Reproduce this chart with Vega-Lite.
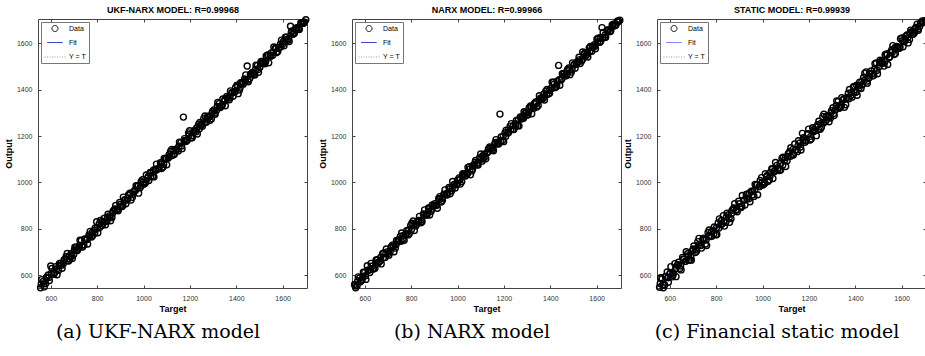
{
  "$schema": "https://vega.github.io/schema/vega-lite/v6.json",
  "padding": {"left": 3, "top": 5, "right": 0, "bottom": 0},
  "background": "white",
  "datasets": {
    "pts": [
      {"t":556,"a":546,"b":560,"c":548},{"t":567,"a":573,"b":555,"c":585},{"t":578,"a":564,"b":588,"c":558},{"t":589,"a":601,"b":581,"c":614},{"t":600,"a":640,"b":613,"c":606},
      {"t":611,"a":605,"b":641,"c":593},{"t":622,"a":637,"b":612,"c":650},{"t":633,"a":621,"b":640,"c":643},{"t":644,"a":652,"b":630,"c":629},{"t":655,"a":652,"b":667,"c":677},
      {"t":666,"a":680,"b":661,"c":660},{"t":677,"a":661,"b":693,"c":693},{"t":688,"a":693,"b":677,"c":666},{"t":699,"a":690,"b":702,"c":708},{"t":710,"a":721,"b":703,"c":698},
      {"t":721,"a":717,"b":731,"c":745},{"t":732,"a":750,"b":717,"c":728},{"t":743,"a":730,"b":749,"c":757},{"t":754,"a":756,"b":768,"c":735},{"t":765,"a":774,"b":756,"c":785},
      {"t":776,"a":765,"b":777,"c":767},{"t":787,"a":793,"b":774,"c":792},{"t":798,"a":831,"b":815,"c":774},{"t":809,"a":821,"b":834,"c":826},{"t":820,"a":815,"b":812,"c":818},
      {"t":831,"a":846,"b":836,"c":857},{"t":842,"a":833,"b":826,"c":828},{"t":853,"a":856,"b":864,"c":861},{"t":864,"a":849,"b":860,"c":844},{"t":875,"a":884,"b":890,"c":888},
      {"t":886,"a":884,"b":876,"c":880},{"t":897,"a":914,"b":900,"c":919},{"t":908,"a":896,"b":901,"c":892},{"t":919,"a":926,"b":931,"c":923},{"t":930,"a":924,"b":916,"c":948},
      {"t":941,"a":954,"b":949,"c":930},{"t":952,"a":936,"b":950,"c":962},{"t":963,"a":967,"b":979,"c":940},{"t":974,"a":984,"b":963,"c":989},{"t":985,"a":977,"b":990,"c":982},
      {"t":996,"a":1012,"b":990,"c":1021},{"t":1007,"a":997,"b":1020,"c":994},{"t":1018,"a":1019,"b":1003,"c":1025},{"t":1029,"a":1043,"b":1038,"c":1011},{"t":1040,"a":1027,"b":1039,"c":1059},
      {"t":1051,"a":1057,"b":1068,"c":1046},{"t":1062,"a":1059,"b":1050,"c":1074},{"t":1073,"a":1085,"b":1077,"c":1052},{"t":1084,"a":1067,"b":1076,"c":1105},{"t":1095,"a":1103,"b":1106,"c":1096},
      {"t":1106,"a":1105,"b":1092,"c":1094},{"t":1117,"a":1135,"b":1123,"c":1133},{"t":1128,"a":1119,"b":1128,"c":1121},{"t":1139,"a":1144,"b":1153,"c":1166},{"t":1150,"a":1136,"b":1140,"c":1133},
      {"t":1161,"a":1172,"b":1168,"c":1170},{"t":1172,"a":1282,"b":1167,"c":1212},{"t":1183,"a":1177,"b":1295,"c":1173},{"t":1194,"a":1214,"b":1181,"c":1208},{"t":1205,"a":1193,"b":1215,"c":1183},
      {"t":1216,"a":1219,"b":1213,"c":1236},{"t":1227,"a":1219,"b":1243,"c":1223},{"t":1238,"a":1251,"b":1229,"c":1249},{"t":1249,"a":1247,"b":1253,"c":1230},{"t":1260,"a":1276,"b":1245,"c":1284},
      {"t":1271,"a":1260,"b":1283,"c":1263},{"t":1282,"a":1287,"b":1276,"c":1288},{"t":1293,"a":1275,"b":1301,"c":1278},{"t":1304,"a":1313,"b":1292,"c":1322},{"t":1315,"a":1311,"b":1330,"c":1314},
      {"t":1326,"a":1340,"b":1325,"c":1349},{"t":1337,"a":1330,"b":1347,"c":1325},{"t":1348,"a":1350,"b":1332,"c":1357},{"t":1359,"a":1371,"b":1365,"c":1335},{"t":1370,"a":1357,"b":1363,"c":1385},
      {"t":1381,"a":1388,"b":1394,"c":1375},{"t":1392,"a":1390,"b":1382,"c":1413},{"t":1403,"a":1420,"b":1406,"c":1389},{"t":1414,"a":1399,"b":1432,"c":1417},{"t":1425,"a":1429,"b":1412,"c":1405},
      {"t":1436,"a":1446,"b":1505,"c":1453},{"t":1447,"a":1502,"b":1443,"c":1477},{"t":1458,"a":1448,"b":1469,"c":1449},{"t":1469,"a":1475,"b":1460,"c":1481},{"t":1480,"a":1464,"b":1494,"c":1462},
      {"t":1491,"a":1504,"b":1476,"c":1515},{"t":1502,"a":1497,"b":1507,"c":1499},{"t":1513,"a":1522,"b":1511,"c":1523},{"t":1524,"a":1512,"b":1540,"c":1502},{"t":1535,"a":1550,"b":1524,"c":1554},
      {"t":1546,"a":1547,"b":1554,"c":1539},{"t":1557,"a":1549,"b":1551,"c":1571},{"t":1568,"a":1579,"b":1580,"c":1552},{"t":1579,"a":1565,"b":1566,"c":1587},{"t":1590,"a":1596,"b":1594,"c":1579},
      {"t":1601,"a":1598,"b":1618,"c":1623},{"t":1612,"a":1626,"b":1604,"c":1607},{"t":1623,"a":1613,"b":1668,"c":1636},{"t":1634,"a":1674,"b":1625,"c":1617},{"t":1645,"a":1639,"b":1654,"c":1651},
      {"t":1656,"a":1664,"b":1651,"c":1647},{"t":1667,"a":1663,"b":1679,"c":1683},{"t":1678,"a":1688,"b":1676,"c":1674},{"t":1689,"a":1686,"b":1695,"c":1697},{"t":1700,"a":1702,"b":1700,"c":1698},
      {"t":561,"a":581,"b":546,"c":589},{"t":572,"a":550,"b":593,"c":546},{"t":583,"a":592,"b":575,"c":595},{"t":594,"a":577,"b":613,"c":570},{"t":605,"a":629,"b":582,"c":637},
      {"t":616,"a":612,"b":622,"c":610},{"t":627,"a":602,"b":651,"c":594},{"t":638,"a":651,"b":627,"c":656},{"t":649,"a":630,"b":666,"c":623},{"t":660,"a":666,"b":655,"c":668},
      {"t":671,"a":694,"b":649,"c":701},{"t":682,"a":670,"b":696,"c":666},{"t":693,"a":672,"b":713,"c":665},{"t":704,"a":721,"b":686,"c":726},{"t":715,"a":707,"b":724,"c":704},
      {"t":726,"a":751,"b":701,"c":759},{"t":737,"a":722,"b":750,"c":717},{"t":748,"a":752,"b":745,"c":753},{"t":759,"a":735,"b":782,"c":728},{"t":770,"a":789,"b":751,"c":795},
      {"t":781,"a":771,"b":792,"c":768},{"t":792,"a":804,"b":779,"c":808},{"t":803,"a":783,"b":824,"c":776},{"t":814,"a":836,"b":793,"c":843},{"t":825,"a":822,"b":829,"c":821},
      {"t":836,"a":818,"b":854,"c":812},{"t":847,"a":863,"b":831,"c":868},{"t":858,"a":835,"b":882,"c":828},{"t":869,"a":877,"b":860,"c":880},{"t":880,"a":901,"b":860,"c":908},
      {"t":891,"a":878,"b":903,"c":874},{"t":902,"a":896,"b":909,"c":894},{"t":913,"a":937,"b":889,"c":944},{"t":924,"a":908,"b":939,"c":903},{"t":935,"a":946,"b":923,"c":950},
      {"t":946,"a":924,"b":968,"c":917},{"t":957,"a":960,"b":955,"c":961},{"t":968,"a":986,"b":951,"c":992},{"t":979,"a":954,"b":1004,"c":947},{"t":990,"a":1004,"b":976,"c":1009},
      {"t":1001,"a":992,"b":1011,"c":989},{"t":1012,"a":1032,"b":993,"c":1038},{"t":1023,"a":1009,"b":1038,"c":1004},{"t":1034,"a":1041,"b":1028,"c":1043},{"t":1045,"a":1024,"b":1065,"c":1017},
      {"t":1056,"a":1079,"b":1033,"c":1086},{"t":1067,"a":1062,"b":1073,"c":1060},{"t":1078,"a":1060,"b":1095,"c":1054},{"t":1089,"a":1104,"b":1075,"c":1109},{"t":1100,"a":1076,"b":1123,"c":1069},
      {"t":1111,"a":1121,"b":1101,"c":1124},{"t":1122,"a":1143,"b":1102,"c":1150},{"t":1133,"a":1122,"b":1145,"c":1118},{"t":1144,"a":1142,"b":1147,"c":1141},{"t":1155,"a":1174,"b":1137,"c":1180},
      {"t":1166,"a":1146,"b":1185,"c":1140},{"t":1177,"a":1189,"b":1166,"c":1193},{"t":1188,"a":1181,"b":1196,"c":1179},{"t":1199,"a":1223,"b":1176,"c":1230},{"t":1210,"a":1193,"b":1226,"c":1188},
      {"t":1221,"a":1226,"b":1217,"c":1228},{"t":1232,"a":1209,"b":1254,"c":1202},{"t":1243,"a":1259,"b":1228,"c":1264},{"t":1254,"a":1242,"b":1267,"c":1238},{"t":1265,"a":1287,"b":1244,"c":1294},
      {"t":1276,"a":1272,"b":1281,"c":1271},{"t":1287,"a":1268,"b":1305,"c":1262},{"t":1298,"a":1307,"b":1290,"c":1310},{"t":1309,"a":1294,"b":1323,"c":1289},{"t":1320,"a":1345,"b":1296,"c":1352},
      {"t":1331,"a":1323,"b":1340,"c":1320},{"t":1342,"a":1360,"b":1325,"c":1366},{"t":1353,"a":1331,"b":1374,"c":1324},{"t":1364,"a":1366,"b":1363,"c":1367},{"t":1375,"a":1395,"b":1356,"c":1401},
      {"t":1386,"a":1372,"b":1401,"c":1368},{"t":1397,"a":1410,"b":1385,"c":1414},{"t":1408,"a":1383,"b":1432,"c":1376},{"t":1419,"a":1430,"b":1409,"c":1433},{"t":1430,"a":1424,"b":1437,"c":1422},
      {"t":1441,"a":1464,"b":1419,"c":1471},{"t":1452,"a":1434,"b":1469,"c":1428},{"t":1463,"a":1467,"b":1460,"c":1468},{"t":1474,"a":1463,"b":1486,"c":1459},{"t":1485,"a":1506,"b":1465,"c":1512},
      {"t":1496,"a":1475,"b":1516,"c":1469},{"t":1507,"a":1522,"b":1493,"c":1527},{"t":1518,"a":1515,"b":1522,"c":1514},{"t":1529,"a":1546,"b":1513,"c":1551},{"t":1540,"a":1516,"b":1563,"c":1509},
      {"t":1551,"a":1559,"b":1544,"c":1561},{"t":1562,"a":1584,"b":1541,"c":1590},{"t":1573,"a":1560,"b":1587,"c":1556},{"t":1584,"a":1583,"b":1586,"c":1582},{"t":1595,"a":1614,"b":1577,"c":1620},
      {"t":1606,"a":1590,"b":1622,"c":1585},{"t":1617,"a":1627,"b":1608,"c":1630},{"t":1628,"a":1608,"b":1647,"c":1602},{"t":1639,"a":1653,"b":1626,"c":1657},{"t":1650,"a":1642,"b":1659,"c":1639},
      {"t":1661,"a":1667,"b":1654,"c":1669},{"t":1672,"a":1660,"b":1683,"c":1656},{"t":1683,"a":1688,"b":1679,"c":1689},{"t":1694,"a":1691,"b":1697,"c":1690},
      {"t":559,"a":562,"b":555,"c":564},{"t":570,"a":563,"b":576,"c":559},{"t":581,"a":589,"b":572,"c":594},{"t":592,"a":590,"b":594,"c":589},{"t":603,"a":608,"b":598,"c":611},
      {"t":614,"a":605,"b":622,"c":600},{"t":625,"a":626,"b":625,"c":627},{"t":636,"a":642,"b":629,"c":646},{"t":647,"a":643,"b":651,"c":640},{"t":658,"a":667,"b":656,"c":670},
      {"t":669,"a":663,"b":678,"c":660},{"t":680,"a":682,"b":674,"c":684},{"t":691,"a":683,"b":694,"c":678},{"t":702,"a":709,"b":694,"c":713},{"t":713,"a":712,"b":718,"c":712},
      {"t":724,"a":728,"b":725,"c":731},{"t":735,"a":730,"b":732,"c":729},{"t":746,"a":756,"b":753,"c":760},{"t":757,"a":754,"b":747,"c":753},{"t":768,"a":768,"b":772,"c":769},
      {"t":779,"a":785,"b":778,"c":788},{"t":790,"a":782,"b":796,"c":778},{"t":801,"a":803,"b":796,"c":804},{"t":812,"a":807,"b":820,"c":804},{"t":823,"a":832,"b":820,"c":836},
      {"t":834,"a":832,"b":834,"c":832},{"t":845,"a":849,"b":838,"c":851},{"t":856,"a":849,"b":861,"c":846},{"t":867,"a":868,"b":865,"c":867},{"t":878,"a":886,"b":887,"c":890},
      {"t":889,"a":885,"b":885,"c":884},{"t":900,"a":905,"b":902,"c":908},{"t":911,"a":901,"b":903,"c":897},{"t":922,"a":925,"b":928,"c":926},{"t":933,"a":932,"b":932,"c":931},
      {"t":944,"a":951,"b":947,"c":955},{"t":955,"a":949,"b":946,"c":946},{"t":966,"a":966,"b":973,"c":967},{"t":977,"a":986,"b":974,"c":990},{"t":988,"a":985,"b":993,"c":984},
      {"t":999,"a":1001,"b":993,"c":1002},{"t":1010,"a":1002,"b":1011,"c":998},{"t":1021,"a":1027,"b":1029,"c":1030},{"t":1032,"a":1028,"b":1030,"c":1026},{"t":1043,"a":1053,"b":1038,"c":1057},
      {"t":1054,"a":1053,"b":1058,"c":1053},{"t":1065,"a":1059,"b":1058,"c":1057},{"t":1076,"a":1080,"b":1086,"c":1082},{"t":1087,"a":1078,"b":1084,"c":1074},{"t":1098,"a":1105,"b":1100,"c":1108},
      {"t":1109,"a":1110,"b":1115,"c":1111},{"t":1120,"a":1115,"b":1112,"c":1113},{"t":1131,"a":1139,"b":1131,"c":1143},{"t":1142,"a":1140,"b":1147,"c":1139},{"t":1153,"a":1156,"b":1149,"c":1158},
      {"t":1164,"a":1157,"b":1173,"c":1153},{"t":1175,"a":1180,"b":1174,"c":1182},{"t":1186,"a":1183,"b":1180,"c":1182},{"t":1197,"a":1206,"b":1200,"c":1210},{"t":1208,"a":1202,"b":1199,"c":1199},
      {"t":1219,"a":1219,"b":1226,"c":1219},{"t":1230,"a":1236,"b":1228,"c":1238},{"t":1241,"a":1232,"b":1245,"c":1228},{"t":1252,"a":1254,"b":1247,"c":1255},{"t":1263,"a":1259,"b":1271,"c":1257},
      {"t":1274,"a":1282,"b":1274,"c":1285},{"t":1285,"a":1284,"b":1278,"c":1283},{"t":1296,"a":1300,"b":1299,"c":1302},{"t":1307,"a":1300,"b":1304,"c":1297},{"t":1318,"a":1328,"b":1324,"c":1332},
      {"t":1329,"a":1327,"b":1320,"c":1326},{"t":1340,"a":1335,"b":1341,"c":1333},{"t":1351,"a":1358,"b":1356,"c":1361},{"t":1362,"a":1363,"b":1358,"c":1364},{"t":1373,"a":1365,"b":1382,"c":1361},
      {"t":1384,"a":1387,"b":1378,"c":1388},{"t":1395,"a":1392,"b":1397,"c":1390},{"t":1406,"a":1415,"b":1405,"c":1419},{"t":1417,"a":1411,"b":1424,"c":1409},{"t":1428,"a":1433,"b":1420,"c":1435},
      {"t":1439,"a":1439,"b":1443,"c":1440},{"t":1450,"a":1441,"b":1447,"c":1437},{"t":1461,"a":1467,"b":1471,"c":1470},{"t":1472,"a":1470,"b":1467,"c":1469},{"t":1483,"a":1487,"b":1484,"c":1488},
      {"t":1494,"a":1487,"b":1487,"c":1484},{"t":1505,"a":1513,"b":1511,"c":1517},{"t":1516,"a":1515,"b":1514,"c":1515},{"t":1527,"a":1523,"b":1530,"c":1521},{"t":1538,"a":1548,"b":1529,"c":1552},
      {"t":1549,"a":1544,"b":1557,"c":1542},{"t":1560,"a":1562,"b":1560,"c":1563},{"t":1571,"a":1578,"b":1567,"c":1581},{"t":1582,"a":1579,"b":1587,"c":1578},{"t":1593,"a":1585,"b":1587,"c":1582},
      {"t":1604,"a":1609,"b":1606,"c":1611},{"t":1615,"a":1616,"b":1624,"c":1617},{"t":1626,"a":1620,"b":1623,"c":1624},{"t":1637,"a":1646,"b":1636,"c":1646},{"t":1648,"a":1646,"b":1655,"c":1645},
      {"t":1659,"a":1662,"b":1651,"c":1663},{"t":1670,"a":1665,"b":1674,"c":1662},{"t":1681,"a":1687,"b":1679,"c":1687},{"t":1692,"a":1691,"b":1692,"c":1690}
    ],
    "lines": [
      {"t":545,"fa":546,"fb":547,"fc":550,"yt":545},
      {"t":1705,"fa":1704,"fb":1703,"fc":1700,"yt":1705}
    ]
  },
  "hconcat": [
    {
      "width": 269, "height": 269,
      "title": {"text": "(a) UKF-NARX model"},
      "layer": [
        {"data": {"name": "lines"}, "mark": {"type": "line", "strokeWidth": 1.5},
         "encoding": {
           "x": {"field": "t", "type": "quantitative", "scale": {"domain": [545, 1705], "nice": false, "zero": false}, "axis": {"orient": "top", "labels": false, "title": "UKF-NARX MODEL: R=0.99968", "values": [600, 800, 1000, 1200, 1400, 1600]}},
           "y": {"field": "fa", "type": "quantitative", "scale": {"domain": [545, 1705], "nice": false, "zero": false}, "axis": {"orient": "right", "labels": false, "title": null, "values": [600, 800, 1000, 1200, 1400, 1600]}},
           "color": {"datum": "Fit", "type": "nominal", "scale": {"domain": ["Data", "Fit", "Y = T"], "range": ["#000000", "#1414b4", "#999999"]}, "legend": {"title": null}},
           "strokeDash": {"datum": "Fit", "type": "nominal", "scale": {"domain": ["Data", "Fit", "Y = T"], "range": [[1, 0], [1, 0], [1, 1.5]]}, "legend": {"title": null}}
         }},
        {"data": {"name": "lines"}, "mark": {"type": "line", "strokeWidth": 0.8},
         "encoding": {
           "x": {"field": "t", "type": "quantitative", "axis": null},
           "y": {"field": "yt", "type": "quantitative", "axis": null},
           "color": {"datum": "Y = T", "type": "nominal"},
           "strokeDash": {"datum": "Y = T", "type": "nominal"}
         }},
        {"data": {"name": "pts"}, "mark": {"type": "point", "filled": false, "strokeWidth": 1.4, "opacity": 1},
         "encoding": {
           "x": {"field": "t", "type": "quantitative", "axis": {"orient": "bottom", "title": "Target", "values": [600, 800, 1000, 1200, 1400, 1600]}},
           "y": {"field": "a", "type": "quantitative", "axis": {"orient": "left", "title": "Output", "values": [600, 800, 1000, 1200, 1400, 1600]}},
           "color": {"datum": "Data", "type": "nominal"},
           "shape": {"datum": "Data", "type": "nominal", "scale": {"domain": ["Data", "Fit", "Y = T"], "range": ["circle", "stroke", "stroke"]}, "legend": {"title": null}},
           "size": {"datum": "Data", "type": "ordinal", "scale": {"domain": ["Data", "Fit", "Y = T"], "range": [36, 441, 441]}, "legend": {"title": null}}
         }}
      ],
      "resolve": {"axis": {"x": "independent", "y": "independent"}}
    },
    {
      "hconcat": [
        {
          "width": 269, "height": 269,
          "title": {"text": "(b) NARX model"},
          "layer": [
            {"data": {"name": "lines"}, "mark": {"type": "line", "strokeWidth": 1.5},
             "encoding": {
               "x": {"field": "t", "type": "quantitative", "scale": {"domain": [545, 1705], "nice": false, "zero": false}, "axis": {"orient": "top", "labels": false, "title": "NARX MODEL: R=0.99966", "values": [600, 800, 1000, 1200, 1400, 1600]}},
               "y": {"field": "fb", "type": "quantitative", "scale": {"domain": [545, 1705], "nice": false, "zero": false}, "axis": {"orient": "right", "labels": false, "title": null, "values": [600, 800, 1000, 1200, 1400, 1600]}},
               "color": {"datum": "Fit", "type": "nominal", "scale": {"domain": ["Data", "Fit", "Y = T"], "range": ["#000000", "#1414b4", "#999999"]}, "legend": {"title": null}},
               "strokeDash": {"datum": "Fit", "type": "nominal", "scale": {"domain": ["Data", "Fit", "Y = T"], "range": [[1, 0], [1, 0], [1, 1.5]]}, "legend": {"title": null}}
             }},
            {"data": {"name": "lines"}, "mark": {"type": "line", "strokeWidth": 0.8},
             "encoding": {
               "x": {"field": "t", "type": "quantitative", "axis": null},
               "y": {"field": "yt", "type": "quantitative", "axis": null},
               "color": {"datum": "Y = T", "type": "nominal"},
               "strokeDash": {"datum": "Y = T", "type": "nominal"}
             }},
            {"data": {"name": "pts"}, "mark": {"type": "point", "filled": false, "strokeWidth": 1.4, "opacity": 1},
             "encoding": {
               "x": {"field": "t", "type": "quantitative", "axis": {"orient": "bottom", "title": "Target", "values": [600, 800, 1000, 1200, 1400, 1600]}},
               "y": {"field": "b", "type": "quantitative", "axis": {"orient": "left", "title": "Output", "values": [600, 800, 1000, 1200, 1400, 1600]}},
               "color": {"datum": "Data", "type": "nominal"},
               "shape": {"datum": "Data", "type": "nominal", "scale": {"domain": ["Data", "Fit", "Y = T"], "range": ["circle", "stroke", "stroke"]}, "legend": {"title": null}},
               "size": {"datum": "Data", "type": "ordinal", "scale": {"domain": ["Data", "Fit", "Y = T"], "range": [36, 441, 441]}, "legend": {"title": null}}
             }}
          ],
          "resolve": {"axis": {"x": "independent", "y": "independent"}}
        },
        {
          "width": 269, "height": 269,
          "title": {"text": "(c) Financial static model"},
          "layer": [
            {"data": {"name": "lines"}, "mark": {"type": "line", "strokeWidth": 1.5},
             "encoding": {
               "x": {"field": "t", "type": "quantitative", "scale": {"domain": [545, 1705], "nice": false, "zero": false}, "axis": {"orient": "top", "labels": false, "title": "STATIC MODEL: R=0.99939", "values": [600, 800, 1000, 1200, 1400, 1600]}},
               "y": {"field": "fc", "type": "quantitative", "scale": {"domain": [545, 1705], "nice": false, "zero": false}, "axis": {"orient": "right", "labels": false, "title": null, "values": [600, 800, 1000, 1200, 1400, 1600]}},
               "color": {"datum": "Fit", "type": "nominal", "scale": {"domain": ["Data", "Fit", "Y = T"], "range": ["#000000", "#6a6aff", "#999999"]}, "legend": {"title": null}},
               "strokeDash": {"datum": "Fit", "type": "nominal", "scale": {"domain": ["Data", "Fit", "Y = T"], "range": [[1, 0], [1, 0], [1, 1.5]]}, "legend": {"title": null}}
             }},
            {"data": {"name": "lines"}, "mark": {"type": "line", "strokeWidth": 0.8},
             "encoding": {
               "x": {"field": "t", "type": "quantitative", "axis": null},
               "y": {"field": "yt", "type": "quantitative", "axis": null},
               "color": {"datum": "Y = T", "type": "nominal"},
               "strokeDash": {"datum": "Y = T", "type": "nominal"}
             }},
            {"data": {"name": "pts"}, "mark": {"type": "point", "filled": false, "strokeWidth": 1.4, "opacity": 1},
             "encoding": {
               "x": {"field": "t", "type": "quantitative", "axis": {"orient": "bottom", "title": "Target", "values": [600, 800, 1000, 1200, 1400, 1600]}},
               "y": {"field": "c", "type": "quantitative", "axis": {"orient": "left", "title": "Output", "values": [600, 800, 1000, 1200, 1400, 1600]}},
               "color": {"datum": "Data", "type": "nominal"},
               "shape": {"datum": "Data", "type": "nominal", "scale": {"domain": ["Data", "Fit", "Y = T"], "range": ["circle", "stroke", "stroke"]}, "legend": {"title": null}},
               "size": {"datum": "Data", "type": "ordinal", "scale": {"domain": ["Data", "Fit", "Y = T"], "range": [36, 441, 441]}, "legend": {"title": null}}
             }}
          ],
          "resolve": {"axis": {"x": "independent", "y": "independent"}}
        }
      ],
      "spacing": 36,
      "bounds": "flush",
      "resolve": {"scale": {"color": "independent", "shape": "independent", "size": "independent", "strokeDash": "independent"}, "legend": {"color": "independent", "shape": "independent", "size": "independent", "strokeDash": "independent"}}
    }
  ],
  "spacing": 45,
  "bounds": "flush",
  "resolve": {"scale": {"color": "independent", "shape": "independent", "size": "independent", "strokeDash": "independent"}, "legend": {"color": "independent", "shape": "independent", "size": "independent", "strokeDash": "independent"}},
  "config": {
    "view": {"stroke": "#444", "strokeWidth": 1},
    "axis": {"labelFont": "Liberation Sans", "labelFontSize": 7, "labelColor": "#333", "titleFont": "Liberation Sans", "titleFontSize": 9, "titleFontWeight": "bold", "titleColor": "#000", "tickSize": -3, "tickColor": "#444", "domain": false, "grid": false, "labelPadding": 9, "titlePadding": 3, "format": "d"},
    "axisTop": {"titlePadding": 4},
    "legend": {"orient": "top-left", "offset": 3, "padding": 3, "strokeColor": "#777", "fillColor": "white", "labelFont": "Liberation Sans", "labelFontSize": 7, "labelColor": "#000", "rowPadding": 0, "labelOffset": 3, "symbolStrokeWidth": 1, "symbolFillColor": "transparent"},
    "title": {"orient": "bottom", "anchor": "middle", "frame": "bounds", "font": "DejaVu Serif", "fontSize": 19, "fontWeight": "normal", "color": "#000", "offset": 10}
  }
}
